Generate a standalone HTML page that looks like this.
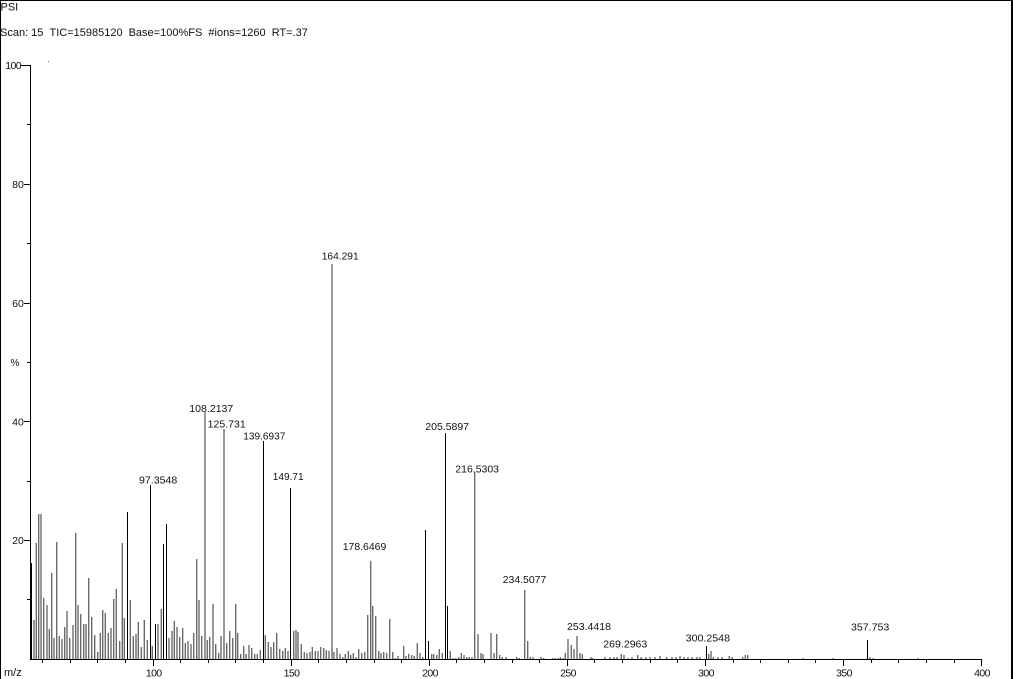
<!DOCTYPE html>
<html>
<head>
<meta charset="utf-8">
<style>
html,body{margin:0;padding:0;background:#fff;}
svg{display:block;}
text{font-family:"Liberation Sans",Arial,sans-serif;fill:#111;}
</style>
</head>
<body>
<svg width="1013" height="679" viewBox="0 0 1013 679" xmlns="http://www.w3.org/2000/svg">
<rect x="0" y="0" width="1013" height="679" fill="#fff"/>
<!-- border -->
<rect x="0" y="0" width="1013" height="1" fill="#000"/>
<rect x="0" y="0" width="1" height="679" fill="#000"/>
<rect x="1011" y="0" width="2" height="679" fill="#000"/>

<!-- header -->
<text x="0.5" y="10.7" font-size="11">PSI</text>
<text x="0" y="36" font-size="11">Scan: 15</text>
<text x="49.5" y="36" font-size="11">TIC=15985120</text>
<text x="128.6" y="36" font-size="11">Base=100%FS</text>
<text x="208.4" y="36" font-size="11">#ions=1260</text>
<text x="271.7" y="36" font-size="11">RT=.37</text>

<!-- small dot -->
<rect x="48" y="61" width="1" height="1" fill="#666"/>

<!-- y axis -->
<path d="M30.5 65V659.5" stroke="#000" stroke-width="1" fill="none"/>
<path d="M21 65.5H30.5M24 184.5H30.5M24 303.5H30.5M24 421.5H30.5M24 540.5H30.5" stroke="#000" stroke-width="1"/>
<path d="M27 124.5H30.5M27 243.5H30.5M27 362.5H30.5M27 481.5H30.5M27 599.5H30.5" stroke="#000" stroke-width="1"/>
<text x="21" y="69.2" font-size="10.5" text-anchor="end" letter-spacing="-0.6">100</text>
<text x="23.8" y="188" font-size="10.5" text-anchor="end">80</text>
<text x="23.8" y="306.9" font-size="10.5" text-anchor="end">60</text>
<text x="23.8" y="425.3" font-size="10.5" text-anchor="end">40</text>
<text x="23.8" y="544.2" font-size="10.5" text-anchor="end">20</text>
<text x="10.5" y="366" font-size="10">%</text>

<!-- x axis -->
<path d="M30 659.5H982" stroke="#000" stroke-width="1"/>
<path d="M153.5 659V666M291.5 659V666M429.5 659V666M567.5 659V666M705.5 659V666M843.5 659V666M981.5 659V666" stroke="#000" stroke-width="1"/>
<path d="M42.5 659V663M70.5 659V663M97.5 659V663M125.5 659V663M180.5 659V663M208.5 659V663M235.5 659V663M263.5 659V663M318.5 659V663M346.5 659V663M374.5 659V663M401.5 659V663M456.5 659V663M484.5 659V663M512.5 659V663M539.5 659V663M594.5 659V663M622.5 659V663M650.5 659V663M677.5 659V663M733.5 659V663M760.5 659V663M788.5 659V663M815.5 659V663M871.5 659V663M898.5 659V663M926.5 659V663M954.5 659V663" stroke="#000" stroke-width="1"/>
<text x="4" y="676" font-size="11">m/z</text>
<text x="153.7" y="676.5" font-size="10.5" text-anchor="middle" letter-spacing="-0.6">100</text>
<text x="291.5" y="676.5" font-size="10.5" text-anchor="middle" letter-spacing="-0.6">150</text>
<text x="430" y="676.5" font-size="10.5" text-anchor="middle" letter-spacing="-0.6">200</text>
<text x="568" y="676.5" font-size="10.5" text-anchor="middle" letter-spacing="-0.6">250</text>
<text x="706" y="676.5" font-size="10.5" text-anchor="middle" letter-spacing="-0.6">300</text>
<text x="844" y="676.5" font-size="10.5" text-anchor="middle" letter-spacing="-0.6">350</text>
<text x="982" y="676.5" font-size="10.5" text-anchor="middle" letter-spacing="-0.6">400</text>

<!-- gray bars -->
<path fill="none" stroke="#666" stroke-width="1.35" d="
M34 659V620M36.3 659V543M38.7 659V514M41 659V514M43.7 659V598M47 659V605M49.3 659V629M51.7 659V573M54 659V638M56.7 659V542
M59.3 659V636M62 659V639M64.7 659V627M67 659V611M69.7 659V638M73 659V625M75.7 659V533M78 659V605M80.7 659V614M83.7 659V624
M86 659V624M88.7 659V578M91.7 659V617M94.7 659V635M97.7 659V652M100.3 659V633M102.7 659V610M105.3 659V613M108.3 659V633M111 659V628
M113.7 659V599M116.3 659V589M119.7 659V641M122.3 659V543M124.3 659V618M130.3 659V600M133.3 659V636M136 659V634M138.3 659V622M141.3 659V647
M144.3 659V620M147.3 659V640M152.3 659V646
M158 659V624M161.3 659V609M169 659V638M172 659V631M174.3 659V621M177 659V627M179.7 659V637M182.7 659V628M185.3 659V643M188 659V641
M191 659V644M193.7 659V633M196.7 659V559M199 659V600M201.7 659V636M205 659V412M207.3 659V640M209.7 659V637M213 659V604M215.7 659V644
M218.7 659V653M221 659V636M224 659V429M226.7 659V643M229.7 659V631M232.7 659V638M235.7 659V604M237.7 659V633M240.7 659V654M243.7 659V646
M246 659V654M249 659V645M251.7 659V648M254.7 659V654M257.3 659V654M260.3 659V650M265.3 659V635M268.3 659V642M271 659V647M273.7 659V642
M276.7 659V633M279.7 659V649M282.7 659V651M285.3 659V648M288 659V651M293.7 659V631M296 659V630M298 659V632M301.3 659V644M304.3 659V652
M307 659V653M310 659V652M312.3 659V647M315.3 659V651M318 659V651M320.7 659V647M323.7 659V648M326.3 659V650M329 659V651M332 659V264
M334 659V652M337 659V648M340 659V654M342.7 659V657M345.3 659V654M348.3 659V651
M350.7 659V655M353.3 659V653M356 659V657M358.7 659V649M361.7 659V653M364.7 659V652M367.7 659V615M370.7 659V561M372.7 659V606M375.7 659V616
M378.7 659V651M381 659V653M383.7 659V652M386.7 659V653M389.7 659V619M392.7 659V652M395.3 659V658M398 659V656M403.7 659V646M406 659V656
M408.7 659V654M411.7 659V655M414.3 659V656M417.3 659V643M420 659V653M422.7 659V657M431.7 659V654M433.7 659V654M436.7 659V655M439.3 659V649
M442.3 659V653M450.3 659V651M453 659V658M456 659V658M458.7 659V657M461.3 659V653M464 659V655M466.7 659V657M469.3 659V657M472 659V657
M474.7 659V472M478 659V634M481 659V653M483 659V654M491 659V633M494 659V653M496.7 659V634M499.7 659V655M502.3 659V657M506 659V657
M516.7 659V657M519.3 659V658M524.7 659V590M527.7 659V641M530.3 659V657M533 659V657M541 659V657M543.7 659V658M552.7 659V658M555.3 659V658
M558 659V658M560.3 659V657M563 659V658M565.3 659V653M568 659V639M571.3 659V645M574 659V649M577 659V636M580 659V653M582.3 659V654
M591 659V657M593 659V658M605 659V657M610 659V657M614 659V657M617 659V657M621.3 659V654M624 659V655M628.3 659V658M632 659V657
M637.7 659V655M641 659V657M646 659V657M650 659V657M655 659V657M660 659V656M666.7 659V657M672 659V657M676 659V657M680 659V656
M684 659V657M688 659V657M692 659V657M697 659V657M700 659V657M708.7 659V654M711 659V651M713.3 659V657M718 659V657M722 659V657
M729.3 659V656M732.3 659V657M742.7 659V657M745.3 659V655M747.7 659V655M870 659V657M873.3 659V658M803 659V658M833 659V658M918 659V658"/>

<!-- black bars -->
<path fill="none" stroke="#000" stroke-width="1" d="
M31.5 659V563M127.5 659V512M150.5 659V485M155.5 659V624M163.5 659V544M166.5 659V524M263.5 659V441M290.5 659V488
M425.5 659V530M428.5 659V641M445.5 659V433M447.5 659V606M706.5 659V646M867.5 659V640"/>

<!-- peak labels -->
<g font-size="10.5">
<text x="139" y="483.3" textLength="38.3" lengthAdjust="spacingAndGlyphs">97.3548</text>
<text x="189.3" y="412" textLength="44" lengthAdjust="spacingAndGlyphs">108.2137</text>
<text x="207.7" y="427.3" textLength="38" lengthAdjust="spacingAndGlyphs">125.731</text>
<text x="243.3" y="439.3" textLength="42" lengthAdjust="spacingAndGlyphs">139.6937</text>
<text x="272.7" y="480" textLength="31" lengthAdjust="spacingAndGlyphs">149.71</text>
<text x="321.7" y="259.3" textLength="37" lengthAdjust="spacingAndGlyphs">164.291</text>
<text x="342.7" y="550" textLength="43.6" lengthAdjust="spacingAndGlyphs">178.6469</text>
<text x="425.3" y="430" textLength="43.7" lengthAdjust="spacingAndGlyphs">205.5897</text>
<text x="455.3" y="472.7" textLength="43.7" lengthAdjust="spacingAndGlyphs">216.5303</text>
<text x="502.7" y="583" textLength="43.6" lengthAdjust="spacingAndGlyphs">234.5077</text>
<text x="567" y="630" textLength="44" lengthAdjust="spacingAndGlyphs">253.4418</text>
<text x="603.3" y="647.3" textLength="44" lengthAdjust="spacingAndGlyphs">269.2963</text>
<text x="685.7" y="641.7" textLength="44.3" lengthAdjust="spacingAndGlyphs">300.2548</text>
<text x="851" y="630.7" textLength="38.3" lengthAdjust="spacingAndGlyphs">357.753</text>
</g>
</svg>
</body>
</html>
